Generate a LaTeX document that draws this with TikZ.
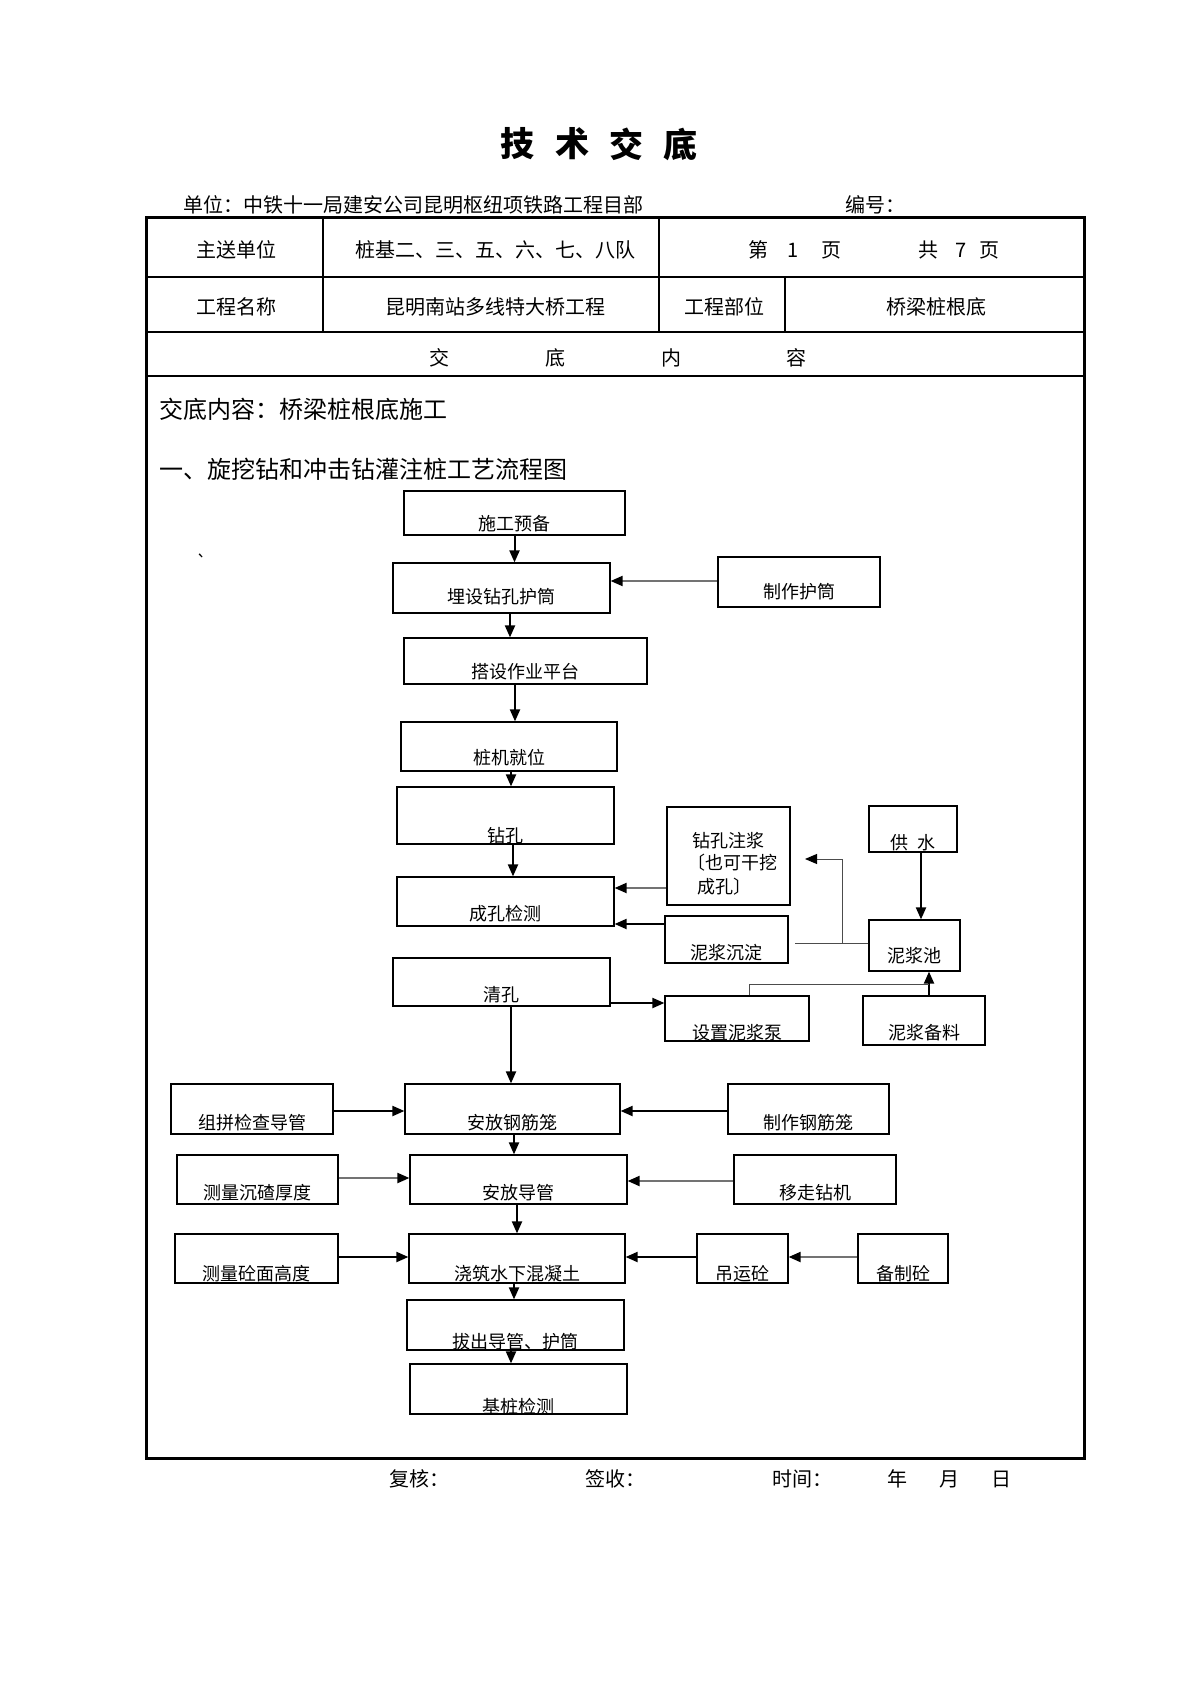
\documentclass[tikz,border=0pt]{standalone}
\usepackage{fontspec}
\setmainfont{Noto Sans CJK SC}
\usetikzlibrary{arrows.meta,fit,calc}
\tikzset{
 box/.style={draw, line width=0.6pt, inner sep=0pt},
 tbox/.style={box, line width=1.1pt},
 lbl/.style={inner sep=0pt, font=\fontsize{9}{10}\selectfont},
 tabtxt/.style={inner sep=0pt, font=\fontsize{10}{12}\selectfont},
 bigtxt/.style={inner sep=0pt, font=\fontsize{12}{14}\selectfont},
 titletxt/.style={inner sep=0pt, font=\fontsize{17}{20}\selectfont\bfseries},
 arr/.style={line width=1pt, -{Triangle[length=6pt,width=5pt]}},
 garr/.style={line width=1pt, draw=black!55, -{Triangle[length=6pt,width=5pt,color=black]}},
 thinline/.style={line width=0.5pt, draw=black!70},
}
\newcommand\flowbox[8][box]{%
  \path (#3,#4) coordinate (#2-nw) (#5,#6) coordinate (#2-se);
  \node[#1, fit=(#2-nw)(#2-se)] (#2) {};
  \node[lbl] (#2-t) at ($(#3,#7)!0.5!(#5,#7)$) {#8};
}
\begin{document}
\begin{tikzpicture}[x=0.5pt,y=-0.5pt]
\fill[white] (0,0) rectangle (1190,1684);
\useasboundingbox (0,0) rectangle (1190,1684);

% title
\node[titletxt] (t1) at (517,144) {技};
\node[titletxt] (t2) at (572,144) {术};
\node[titletxt] (t3) at (626,144) {交};
\node[titletxt] (t4) at (680,144) {底};

% header
\node[tabtxt, anchor=west] (unit) at (183,205) {单位：中铁十一局建安公司昆明枢纽项铁路工程目部};
\node[tabtxt, anchor=west] (num) at (845,205) {编号：};

% table
\draw[line width=1.5pt] (146,218) rectangle (1084,1458);
\draw[line width=0.7pt] (146,277) -- (1084,277);
\draw[line width=0.7pt] (146,332) -- (1084,332);
\draw[line width=0.7pt] (146,376) -- (1084,376);
\draw[line width=1.3pt] (323,218) -- (323,332);
\draw[line width=0.7pt] (659,218) -- (659,332);
\draw[line width=0.7pt] (785,277) -- (785,332);

\node[tabtxt] (r1a) at (236,250) {主送单位};
\node[tabtxt] (r1b) at (495,250) {桩基二、三、五、六、七、八队};
\node[tabtxt] (r1c) at (758,250) {第};
\node[tabtxt] (r1d) at (793,250) {1};
\node[tabtxt] (r1e) at (831,250) {页};
\node[tabtxt] (r1f) at (928,250) {共};
\node[tabtxt] (r1g) at (961,250) {7};
\node[tabtxt] (r1h) at (989,250) {页};

\node[tabtxt] (r2a) at (236,307) {工程名称};
\node[tabtxt] (r2b) at (495,307) {昆明南站多线特大桥工程};
\node[tabtxt] (r2c) at (724,307) {工程部位};
\node[tabtxt] (r2d) at (936,307) {桥梁桩根底};

\node[tabtxt] (r3a) at (439,358) {交};
\node[tabtxt] (r3b) at (555,358) {底};
\node[tabtxt] (r3c) at (671,358) {内};
\node[tabtxt] (r3d) at (796,358) {容};

\node[bigtxt, anchor=west] (c1) at (159,409) {交底内容：桥梁桩根底施工};
\node[bigtxt, anchor=west] (c2) at (159,469) {一、旋挖钻和冲击钻灌注桩工艺流程图};
\node[lbl] (tick) at (202,562) {\textasciigrave};

% flow boxes
\flowbox{prep}{404}{491}{625}{535}{524}{施工预备}
\flowbox{bury}{393}{563}{610}{613}{597}{埋设钻孔护筒}
\flowbox[tbox]{maketube}{718}{557}{880}{607}{592}{制作护筒}
\flowbox{platform}{404}{638}{647}{684}{672}{搭设作业平台}
\flowbox{pile}{401}{722}{617}{771}{758}{桩机就位}
\flowbox{drill}{397}{787}{614}{844}{836}{钻孔}
\flowbox{check}{397}{877}{614}{926}{914}{成孔检测}
\flowbox{clean}{393}{958}{610}{1006}{995}{清孔}
\flowbox[tbox]{inject}{667}{807}{790}{905}{841}{钻孔注浆}
\node[lbl] (inject-t2) at (732,863) {〔也可干挖};
\node[lbl] (inject-t3) at (724,887) {成孔〕};
\flowbox{settle}{665}{916}{788}{963}{953}{泥浆沉淀}
\flowbox{water}{869}{806}{957}{852}{843}{供\hspace{0.5em}水}
\flowbox{pool}{869}{920}{960}{971}{956}{泥浆池}
\flowbox{pump}{665}{996}{809}{1041}{1033}{设置泥浆泵}
\flowbox[tbox]{material}{863}{996}{985}{1045}{1033}{泥浆备料}
\flowbox{cage}{405}{1084}{620}{1134}{1123}{安放钢筋笼}
\flowbox[tbox]{assemble}{171}{1084}{333}{1134}{1123}{组拼检查导管}
\flowbox{makecage}{728}{1084}{889}{1134}{1123}{制作钢筋笼}
\flowbox{conduit}{410}{1155}{627}{1204}{1193}{安放导管}
\flowbox{measure1}{177}{1155}{338}{1204}{1193}{测量沉碴厚度}
\flowbox{move}{734}{1155}{896}{1204}{1193}{移走钻机}
\flowbox{pour}{409}{1234}{625}{1283}{1274}{浇筑水下混凝土}
\flowbox{measure2}{175}{1234}{338}{1283}{1274}{测量砼面高度}
\flowbox{lift}{697}{1234}{788}{1283}{1274}{吊运砼}
\flowbox{prepare}{858}{1234}{948}{1283}{1274}{备制砼}
\flowbox{pull}{407}{1300}{624}{1350}{1342}{拔出导管、护筒}
\flowbox{test}{410}{1364}{627}{1414}{1407}{基桩检测}

% connectors
\draw[arr] (prep.south) -- (prep.south |- bury.north);
\draw[garr] (maketube.west |- 0,581) -- (bury.east |- 0,581);
\draw[arr] (bury.south -| 510,0) -- (platform.north -| 510,0);
\draw[arr] (platform.south -| 515,0) -- (pile.north -| 515,0);
\draw[arr] (pile.south -| 511,0) -- (drill.north -| 511,0);
\draw[arr] (drill.south -| 513,0) -- (check.north -| 513,0);
\draw[garr] (inject.west |- 0,888) -- (check.east |- 0,888);
\draw[arr] (settle.west |- 0,924) -- (check.east |- 0,924);
\draw[arr] (water.south -| 921,0) -- (pool.north -| 921,0);
\coordinate (p1) at (795,943);
\coordinate (p2) at (842,943);
\coordinate (p3) at (805,859);
\draw[thinline] (pool.west |- p1) -- (p1);
\draw[thinline, -{Triangle[length=6pt,width=5pt,color=black]}] (p2) -- (p2 |- p3) -- (p3);
\draw[arr] (clean.east |- 0,1003) -- (pump.west |- 0,1003);
\draw[arr] (material.north -| 929,0) -- (pool.south -| 929,0);
\coordinate (p4) at (929,984);
\draw[thinline] (pump.north -| 749,0) |- (p4);
\draw[arr] (clean.south -| 511,0) -- (cage.north -| 511,0);
\draw[arr] (assemble.east |- 0,1111) -- (cage.west |- 0,1111);
\draw[arr] (makecage.west |- 0,1111) -- (cage.east |- 0,1111);
\draw[arr] (cage.south -| 514,0) -- (conduit.north -| 514,0);
\draw[garr] (measure1.east |- 0,1178) -- (conduit.west |- 0,1178);
\draw[garr] (move.west |- 0,1181) -- (conduit.east |- 0,1181);
\draw[arr] (conduit.south -| 517,0) -- (pour.north -| 517,0);
\draw[arr] (measure2.east |- 0,1257) -- (pour.west |- 0,1257);
\draw[arr] (lift.west |- 0,1257) -- (pour.east |- 0,1257);
\draw[garr] (prepare.west |- 0,1257) -- (lift.east |- 0,1257);
\draw[arr] (pour.south -| 514,0) -- (pull.north -| 514,0);
\draw[arr] (pull.south -| 511,0) -- (test.north -| 511,0);

% footer
\node[tabtxt, anchor=west] (f1) at (389,1479) {复核：};
\node[tabtxt, anchor=west] (f2) at (585,1479) {签收：};
\node[tabtxt, anchor=west] (f3) at (772,1479) {时间：};
\node[tabtxt] (f4) at (897,1479) {年};
\node[tabtxt] (f5) at (949,1479) {月};
\node[tabtxt] (f6) at (1001,1479) {日};
\end{tikzpicture}
\end{document}
